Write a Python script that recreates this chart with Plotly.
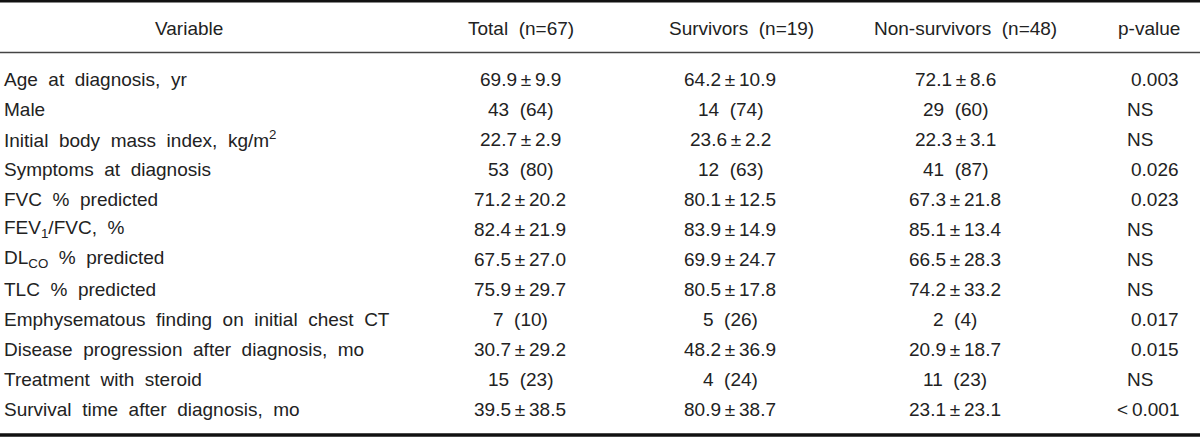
import plotly.graph_objects as go

# ---------------- data ----------------
headers = ["Variable", "Total (n=67)", "Survivors (n=19)", "Non-survivors (n=48)", "p-value"]

variables = [
    "Age at diagnosis, yr",
    "Male",
    "Initial body mass index, kg/m<sup>2</sup>",
    "Symptoms at diagnosis",
    "FVC % predicted",
    "FEV<sub>1</sub>/FVC, %",
    "DL<sub>CO</sub> % predicted",
    "TLC % predicted",
    "Emphysematous finding on initial chest CT",
    "Disease progression after diagnosis, mo",
    "Treatment with steroid",
    "Survival time after diagnosis, mo",
]
total = ["69.9±9.9", "43 (64)", "22.7±2.9", "53 (80)", "71.2±20.2", "82.4±21.9",
         "67.5±27.0", "75.9±29.7", "7 (10)", "30.7±29.2", "15 (23)", "39.5±38.5"]
survivors = ["64.2±10.9", "14 (74)", "23.6±2.2", "12 (63)", "80.1±12.5", "83.9±14.9",
             "69.9±24.7", "80.5±17.8", "5 (26)", "48.2±36.9", "4 (24)", "80.9±38.7"]
non_survivors = ["72.1±8.6", "29 (60)", "22.3±3.1", "41 (87)", "67.3±21.8", "85.1±13.4",
                 "66.5±28.3", "74.2±33.2", "2 (4)", "20.9±18.7", "11 (23)", "23.1±23.1"]
p_values = ["0.003", "NS", "NS", "0.026", "0.023", "NS", "NS", "NS", "0.017", "0.015", "NS", "<0.001"]

# ---------------- layout params ----------------
W, H = 1200, 437
FONT = dict(family="Liberation Sans, Arial, sans-serif", size=19, color="#222222")
header_y = 28
row_y0, row_h = 79, 30
header_x = [189, 521, 741, 965, 1149]
col_x = [2, 520, 730, 955]
p_right, p_left = 1181, 1125


def fmt(s):
    s = s.replace(" ", " \u00a0")
    s = s.replace("±", "\u2009±\u2009")
    s = s.replace("<0", "<\u20090")
    return s


fig = go.Figure()
fig.add_trace(go.Scatter(x=[0, W], y=[0, H], mode="markers",
                         marker=dict(opacity=0), hoverinfo="skip", showlegend=False))

ann = []
for hx, h in zip(header_x, headers):
    ann.append(dict(x=hx, y=header_y, text=fmt(h), xanchor="center", yanchor="middle"))

for i in range(len(variables)):
    y = row_y0 + i * row_h
    ann.append(dict(x=col_x[0], y=y, text=fmt(variables[i]), xanchor="left", yanchor="middle"))
    ann.append(dict(x=col_x[1], y=y, text=fmt(total[i]), xanchor="center", yanchor="middle"))
    ann.append(dict(x=col_x[2], y=y, text=fmt(survivors[i]), xanchor="center", yanchor="middle"))
    ann.append(dict(x=col_x[3], y=y, text=fmt(non_survivors[i]), xanchor="center", yanchor="middle"))
    pv = p_values[i]
    if pv[0].isdigit() or pv[0] == "<":
        ann.append(dict(x=p_right, y=y, text=fmt(pv), xanchor="right", yanchor="middle"))
    else:
        ann.append(dict(x=p_left, y=y, text=fmt(pv), xanchor="left", yanchor="middle"))

for a in ann:
    a.update(xref="x", yref="y", showarrow=False, font=FONT)

shapes = [
    dict(type="line", xref="x", yref="y", x0=0, x1=W, y0=1.2, y1=1.2, line=dict(color="#111", width=2.5)),
    dict(type="line", xref="x", yref="y", x0=0, x1=W, y0=52.5, y1=52.5, line=dict(color="#444", width=1.3)),
    dict(type="line", xref="x", yref="y", x0=0, x1=W, y0=435, y1=435, line=dict(color="#111", width=3.5)),
]

fig.update_layout(
    width=W, height=H,
    margin=dict(l=0, r=0, t=0, b=0),
    paper_bgcolor="white", plot_bgcolor="white",
    xaxis=dict(range=[0, W], visible=False, fixedrange=True),
    yaxis=dict(range=[H, 0], visible=False, fixedrange=True),
    annotations=ann, shapes=shapes,
    showlegend=False,
)

fig.write_html(
    "out.html",
    config={"displayModeBar": False},
    post_script="document.body.style.margin='0';document.body.style.overflow='hidden';",
)
